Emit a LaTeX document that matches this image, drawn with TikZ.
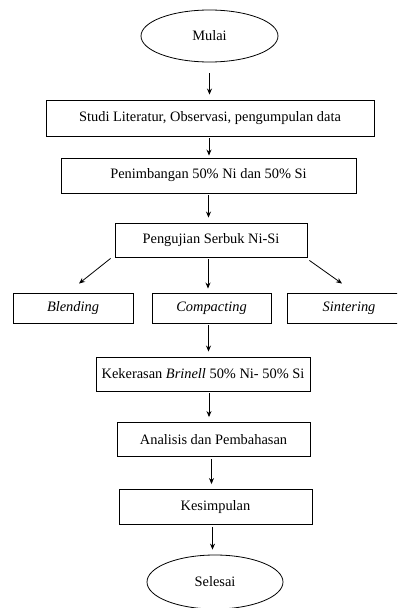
\documentclass[tikz,border=0pt]{standalone}
\usepackage{fontspec}
\setmainfont{Liberation Serif}
\usetikzlibrary{positioning, arrows.meta, shapes.geometric}

\begin{document}
\begin{tikzpicture}[
  x=1pt, y=-1pt,
  font=\fontsize{14.4}{16}\selectfont,
  terminal/.style={ellipse, draw, line width=0.8pt, inner sep=0pt},
  proses/.style={rectangle, draw, line width=0.9pt, inner sep=0pt, minimum height=34pt},
  alur/.style={-{Stealth[length=6pt, width=5pt]}, line width=0.8pt, shorten <=2pt, shorten >=5pt}
]
  \clip (0,0) rectangle (397,608);
  % langkah utama
  \node[terminal, minimum width=137pt, minimum height=52pt] (mulai) at (209.5,36) {Mulai};
  \node[proses, minimum width=328pt, minimum height=36pt] (studi) at (210,118) {Studi Literatur, Observasi, pengumpulan data};
  \node[proses, minimum width=295pt, minimum height=35pt] (timbang) at (208.5,175.5) {Penimbangan 50\% Ni dan 50\% Si};
  \node[proses, minimum width=192pt] (uji) at (211,240) {Pengujian Serbuk Ni-Si};
  % tiga cabang
  \node[proses, minimum width=120pt, minimum height=30pt] (blend) at (73,308) {\itshape Blending};
  \node[proses, minimum width=119pt, minimum height=30pt] (compact) at (211.5,308) {\itshape Compacting};
  \node[proses, minimum width=124pt, minimum height=30pt] (sinter) at (349,308) {\itshape Sintering};
  \node[proses, minimum width=214pt] (keras) at (203,374) {Kekerasan \textit{Brinell} 50\% Ni- 50\% Si};
  \node[proses, minimum width=193pt] (analisis) at (213.5,439.5) {Analisis dan Pembahasan};
  \node[proses, minimum width=193pt, minimum height=35pt] (simpul) at (215.5,507) {Kesimpulan};
  \node[terminal, minimum width=136pt, minimum height=54pt] (selesai) at (215,582) {Selesai};

  \draw[alur, shorten <=11pt] (mulai.south) -- (mulai.south |- studi.north);
  \draw[alur, shorten >=2pt] ([xshift=-1pt]studi.south) -- ([xshift=-1pt]studi.south |- timbang.north);
  \draw[alur] (timbang.south) -- (timbang.south |- uji.north);
  \draw[alur, shorten <=0pt, shorten >=0pt] ([xshift=-4pt, yshift=-1pt]uji.south west) -- ([xshift=6pt, yshift=9pt]blend.north);
  \draw[alur, shorten >=4pt] ([xshift=-3pt]uji.south) -- ([xshift=-3pt]uji.south |- compact.north);
  \draw[alur, shorten <=0pt, shorten >=0pt] ([xshift=2pt, yshift=-3pt]uji.south east) -- ([xshift=-7pt, yshift=9pt]sinter.north);
  \draw[alur] ([xshift=-3pt]compact.south) -- ([xshift=-3pt]compact.south |- keras.north);
  \draw[alur] ([xshift=6pt]keras.south) -- ([xshift=6pt]keras.south |- analisis.north);
  \draw[alur] ([xshift=-2pt]analisis.south) -- ([xshift=-2pt]analisis.south |- simpul.north);
  \draw[alur] ([xshift=-3pt]simpul.south) -- ([xshift=-3pt]simpul.south |- selesai.north);
\end{tikzpicture}
\end{document}
